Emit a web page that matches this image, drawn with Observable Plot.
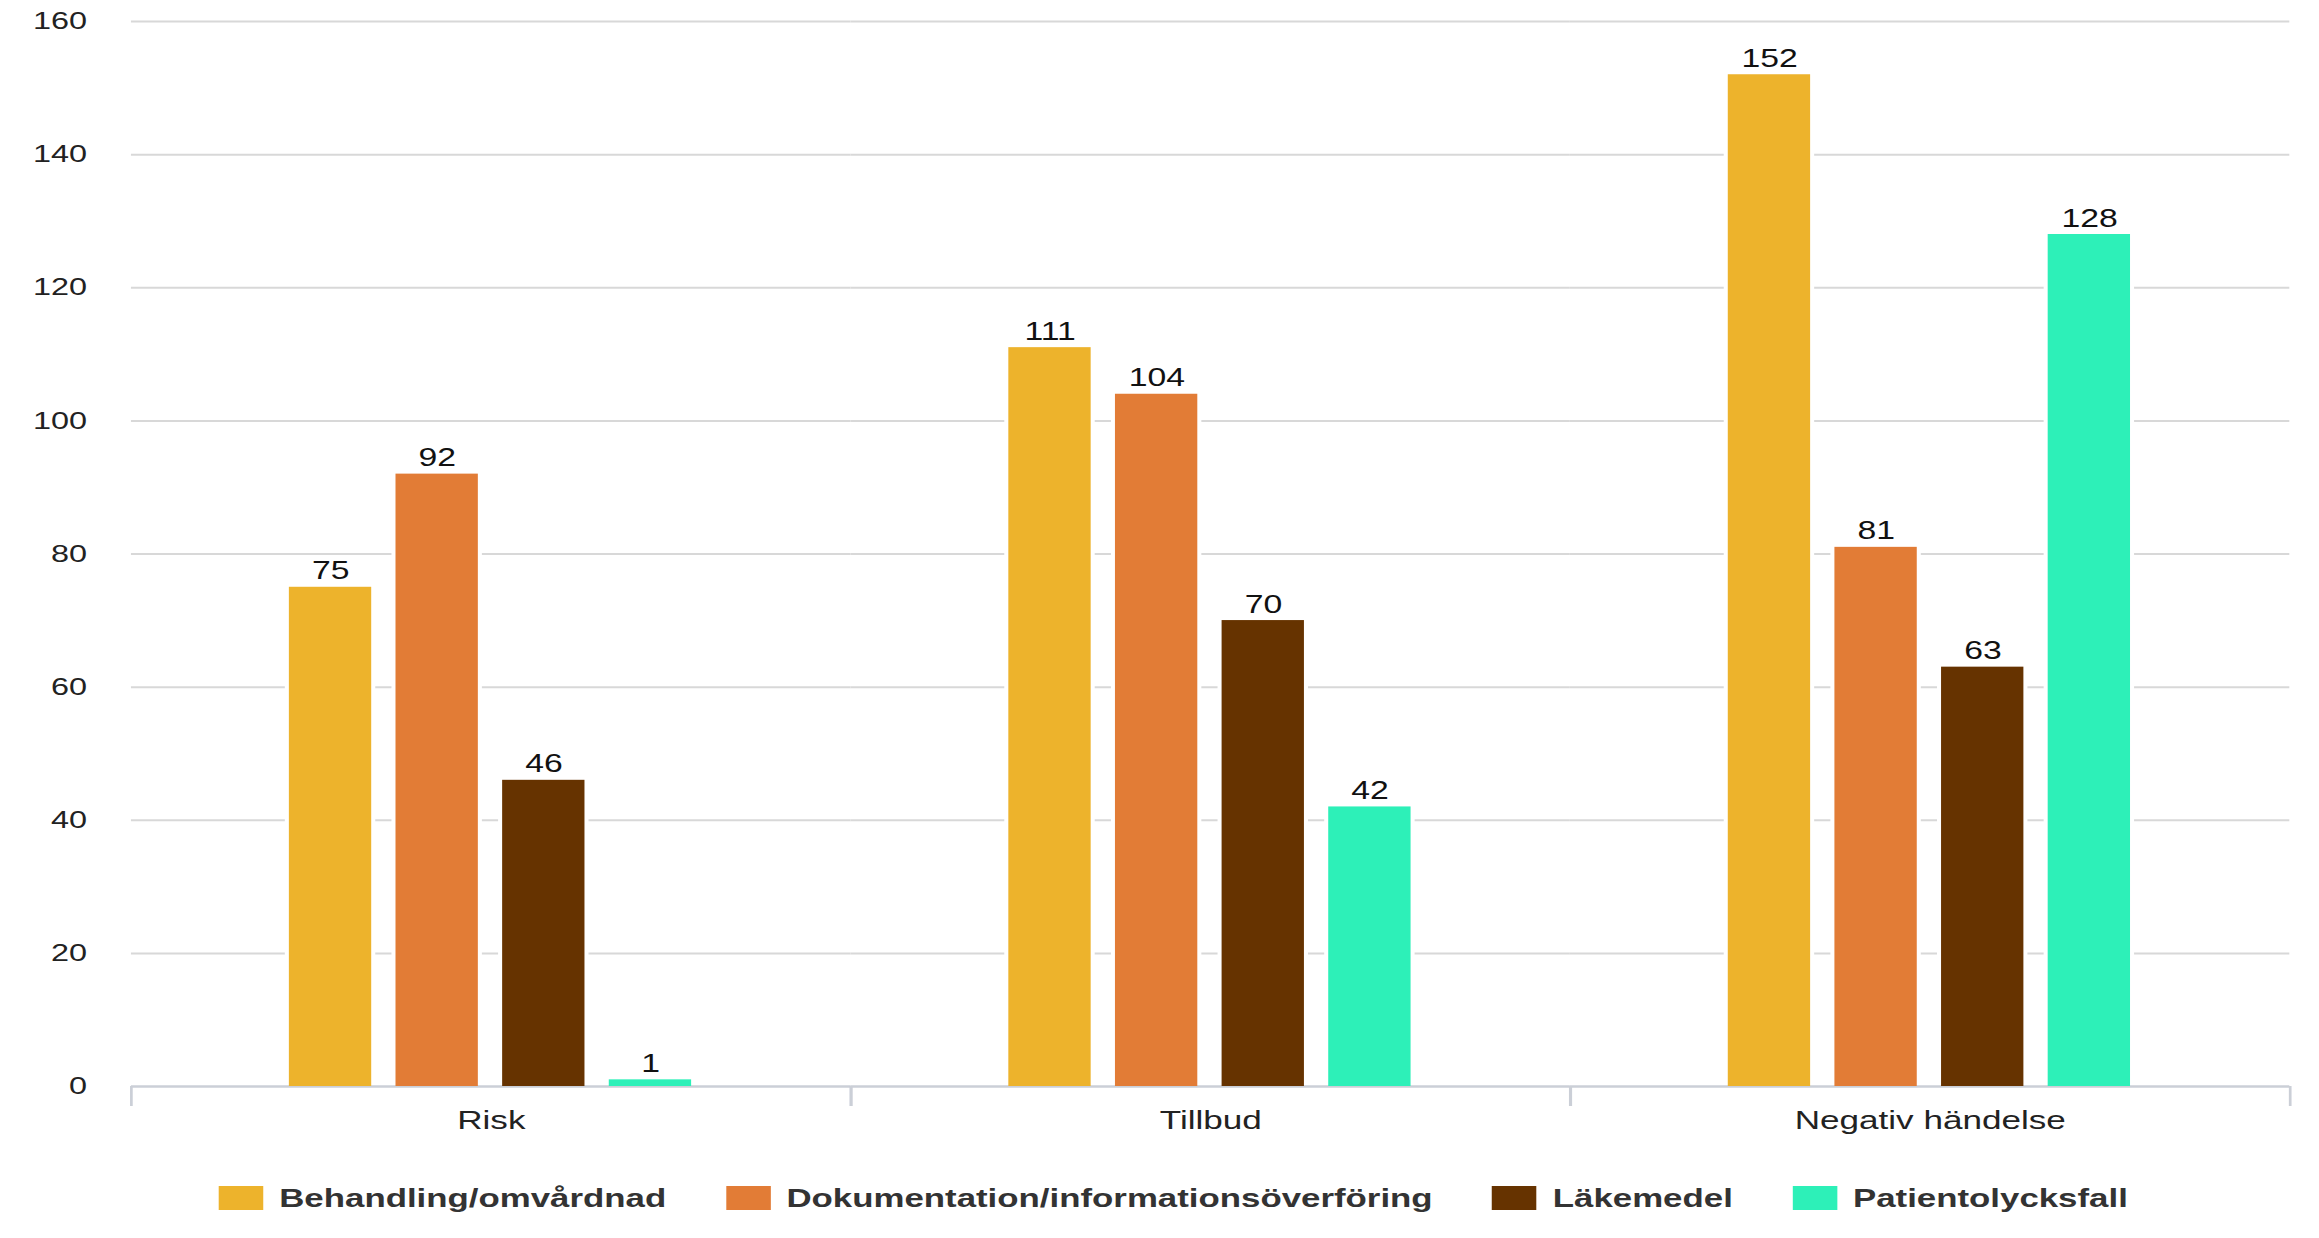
<!DOCTYPE html>
<html>
<head>
<meta charset="utf-8">
<script src="https://cdn.jsdelivr.net/npm/d3@7"></script>
<script src="https://cdn.jsdelivr.net/npm/@observablehq/plot@0.6"></script>
<style>
  html, body { margin: 0; padding: 0; background: #fff; }
  body { width: 2319px; height: 1238px; overflow: hidden; font-family: "Liberation Sans", Arial, Helvetica, sans-serif; }
  #legend {
    width: 1718px; box-sizing: border-box; padding-left: 20px; margin-top: 36px;
    transform: scaleX(1.35); transform-origin: 0 0;
    display: flex; justify-content: center; gap: 44px;
    font-family: "Liberation Sans", Arial, Helvetica, sans-serif;
  }
  .item { display: flex; align-items: center; }
  .sw { width: 33px; height: 24px; margin-right: 12px; }
  .lab { font-weight: bold; font-size: 25.8px; color: #333; line-height: 24px; white-space: nowrap; }
</style>
</head>
<body>
<div id="chart"></div>
<div id="legend"></div>
<script>
// ---- data ----
const categories = ["Risk", "Tillbud", "Negativ händelse"];
const series = ["Behandling/omvårdnad", "Dokumentation/informationsöverföring", "Läkemedel", "Patientolycksfall"];
const behandling = [75, 111, 152];
const dokumentation = [92, 104, 81];
const lakemedel = [46, 70, 63];
const patientolycksfall = [1, 42, 128];
const colors = ["#EDB32C", "#E27C36", "#663300", "#2DF0B8"];
const yTicks = [0, 20, 40, 60, 80, 100, 120, 140, 160];

const valuesBySeries = [behandling, dokumentation, lakemedel, patientolycksfall];
const table = categories.flatMap((c, i) =>
  series.map((s, j) => ({category: c, series: s, value: valuesBySeries[j][i]})));

// ---- layout (unstretched coordinates; stretched horizontally to 2319px) ----
const FULLW = 2319;
const SX = 1.35;
const W0 = Math.round(FULLW / SX);
const H = 1150;
const mt = 21, mb = 64, ml = 96, mr = 22;
const innerH = H - mt - mb;
const facetW = (W0 - ml - mr) / categories.length;
const font = '"Liberation Sans", Arial, Helvetica, sans-serif';

const chart = Plot.plot({
  width: W0,
  height: H,
  marginTop: mt, marginBottom: mb, marginLeft: ml, marginRight: mr,
  style: {fontFamily: font, fontSize: "24px", color: "#222", background: "white"},
  fx: {domain: categories, padding: 0, axis: "bottom", label: null, tickSize: 0, tickPadding: 24},
  x: {domain: series, axis: null, paddingInner: 0.226, paddingOuter: 1.447},
  y: {domain: [0, 160], ticks: yTicks, tickSize: 0, tickPadding: 33, label: null},
  color: {domain: series, range: colors},
  marks: [
    Plot.ruleY(yTicks.filter(d => d > 0), {y: d => d, stroke: "#d8d8d8", strokeWidth: 2}),
    Plot.barY(table, {fx: "category", x: "series", y: "value", fill: "white", insetLeft: -3, insetRight: -3}),
    Plot.ruleY([0], {y: d => d, stroke: "#cbcfd7", strokeWidth: 2.5}),
    Plot.ruleX([null], {x: null, stroke: "#cbcfd7", strokeWidth: 2, dx: -facetW / 2, insetTop: innerH, insetBottom: -20}),
    Plot.ruleX([null], {x: null, stroke: "#cbcfd7", strokeWidth: 2, dx: facetW / 2, insetTop: innerH, insetBottom: -20}),
    Plot.barY(table, {fx: "category", x: "series", y: "value", fill: "series"}),
    Plot.text(table, {fx: "category", x: "series", y: "value", text: d => String(d.value),
      lineAnchor: "bottom", dy: -8, fill: "#111", fontSize: 25})
  ]
});

chart.querySelectorAll("text").forEach(t => {
  if (categories.includes(t.textContent)) t.setAttribute("font-size", "26");
});
chart.setAttribute("viewBox", `0 0 ${W0} ${H}`);
chart.setAttribute("width", FULLW);
chart.setAttribute("height", H);
chart.setAttribute("preserveAspectRatio", "none");
chart.style.width = FULLW + "px";
chart.style.height = H + "px";
chart.style.maxWidth = "none";
chart.style.display = "block";
document.getElementById("chart").appendChild(chart);

// ---- legend ----
const legend = document.getElementById("legend");
series.forEach((s, i) => {
  const item = document.createElement("div");
  item.className = "item";
  const sw = document.createElement("div");
  sw.className = "sw";
  sw.style.background = colors[i];
  const lab = document.createElement("span");
  lab.className = "lab";
  lab.textContent = s;
  item.appendChild(sw);
  item.appendChild(lab);
  legend.appendChild(item);
});
</script>
</body>
</html>
